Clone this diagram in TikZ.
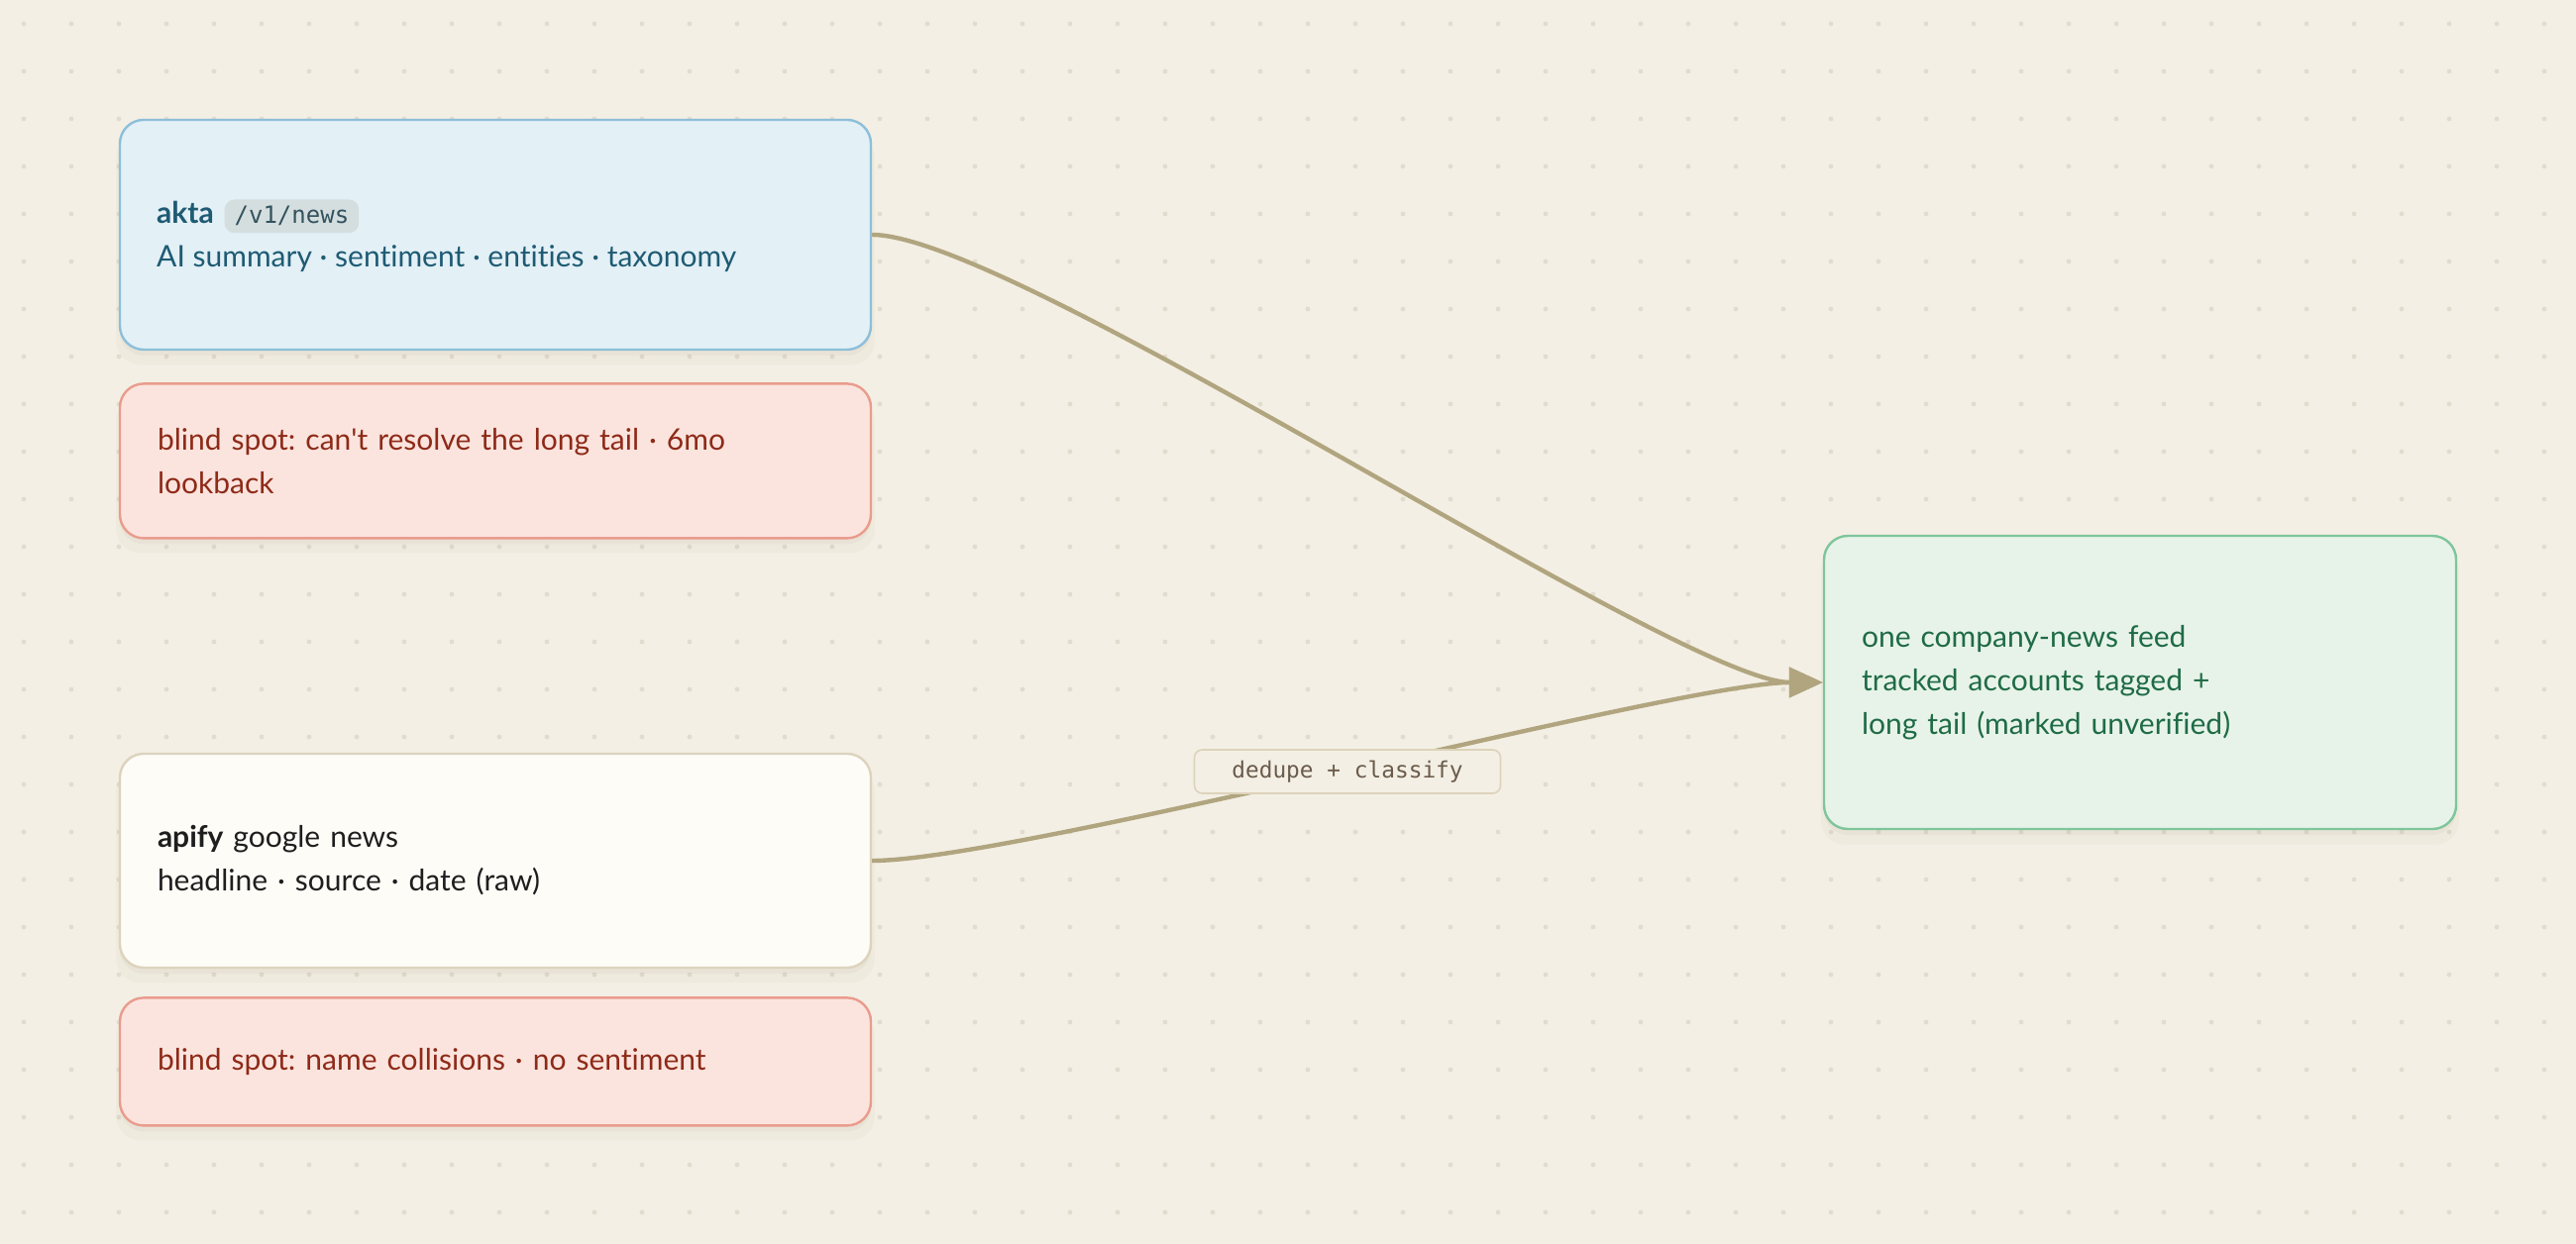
\documentclass[tikz,border=0pt]{standalone}
\usepackage{fontspec}
\setmainfont{Lato}[Ligatures=NoCommon]
\setmonofont{DejaVu Sans Mono}
\usetikzlibrary{positioning,arrows.meta,shadows}
\frenchspacing

\definecolor{paper}{HTML}{F3EFE4}
\definecolor{dotcol}{HTML}{E2DCCE}
\definecolor{shadowcol}{HTML}{6B5A3A}
\definecolor{aktafill}{HTML}{E3F0F6}
\definecolor{aktaline}{HTML}{8DBFD9}
\definecolor{aktatext}{HTML}{1E5B73}
\definecolor{pillfill}{HTML}{D4DEDF}
\definecolor{pilltext}{HTML}{34525D}
\definecolor{blindfill}{HTML}{FBE4DE}
\definecolor{blindline}{HTML}{E99C8D}
\definecolor{blindtext}{HTML}{8E2A18}
\definecolor{apifyfill}{HTML}{FEFCF7}
\definecolor{apifyline}{HTML}{DDD3BD}
\definecolor{apifytext}{HTML}{1E1E1E}
\definecolor{feedfill}{HTML}{E7F3E9}
\definecolor{feedline}{HTML}{7FC59B}
\definecolor{feedtext}{HTML}{1F6B45}
\definecolor{flowcol}{HTML}{B1A57F}
\definecolor{tagline}{HTML}{DDD3BA}
\definecolor{tagtext}{HTML}{6B5B4B}

\tikzset{>={Triangle[length=17pt,width=15pt]}}
\def\bodyfont{\fontsize{15}{22}\selectfont}
\def\codefont{\ttfamily\fontsize{11.4}{13}\selectfont}
\def\pillfont{\ttfamily\fontsize{12}{14}\selectfont}

\tikzset{
  card/.style={rounded corners=12pt, line width=1.2pt, inner xsep=19pt, inner ysep=0pt,
    text width=341pt, align=left, font=\bodyfont,
    general shadow={shadow yshift=-3pt, fill=shadowcol, opacity=.045},
    general shadow={shadow yshift=-7pt, shadow scale=1.01, fill=shadowcol, opacity=.03}},
  source/.style={card, fill=aktafill, draw=aktaline, text=aktatext},
  blind/.style={card, fill=blindfill, draw=blindline, text=blindtext},
  raw/.style={card, fill=apifyfill, draw=apifyline, text=apifytext},
  sink/.style={card, fill=feedfill, draw=feedline, text=feedtext, text width=281pt},
  inline/.style={inner sep=0pt, font=\bodyfont, text=aktatext, anchor=base west},
  pill/.style={fill=pillfill, rounded corners=5pt, inner xsep=5pt, inner ysep=3.5pt,
    text=pilltext, font=\pillfont},
  flow/.style={draw=flowcol, line width=2.2pt, ->},
  tag/.style={fill=paper, draw=tagline, line width=.8pt, rounded corners=4pt,
    minimum width=154.5pt, minimum height=22pt, inner sep=0pt, text=tagtext, font=\codefont}
}

\begin{document}
\begin{tikzpicture}
  \useasboundingbox (0,0) rectangle (1300pt,-628pt);
  \fill[paper] (0,0) rectangle (1300pt,-628pt);
  \foreach \x in {12,36,...,1290}
    \foreach \y in {12,36,...,620}
      \fill[dotcol] (\x pt,-\y pt) circle (1.2pt);

  % sources on the left
  \node[source, minimum height=116pt] (akta) at (250pt,-118.5pt) {};
  \node[inline, xshift=19pt, yshift=5.5pt] (aktaname) at (akta.west) {\bfseries akta};
  \node[pill, right=5pt of aktaname.base east, anchor=base west] (aktapath) {/v1/news};
  \node[inline, xshift=19pt, yshift=-16.5pt] (aktadesc) at (akta.west)
    {AI summary · sentiment · entities · taxonomy};
  \node[blind, below=16pt of akta, minimum height=78pt] (aktagap)
    {blind spot: can\textquotesingle t resolve the long tail · 6mo\\lookback};

  \node[raw, minimum height=108pt] (apify) at (250pt,-434.5pt)
    {{\bfseries apify} google news\\headline · source · date (raw)};
  \node[blind, below=14pt of apify, minimum height=64.5pt] (apifygap)
    {blind spot: name collisions · no sentiment};

  % merged feed
  \node[sink, minimum height=148pt] (feed) at (1080pt,-344.5pt)
    {one company-news feed\\tracked accounts tagged +\\long tail (marked unverified)};

  \path[flow] (akta.east) .. controls +(72pt,0) and +(-72pt,0) .. (feed.west);
  \path[flow] (apify.east) .. controls +(72pt,0) and +(-72pt,0) .. (feed.west)
    node[tag, pos=0.5] (merge) {dedupe + classify};
\end{tikzpicture}
\end{document}
